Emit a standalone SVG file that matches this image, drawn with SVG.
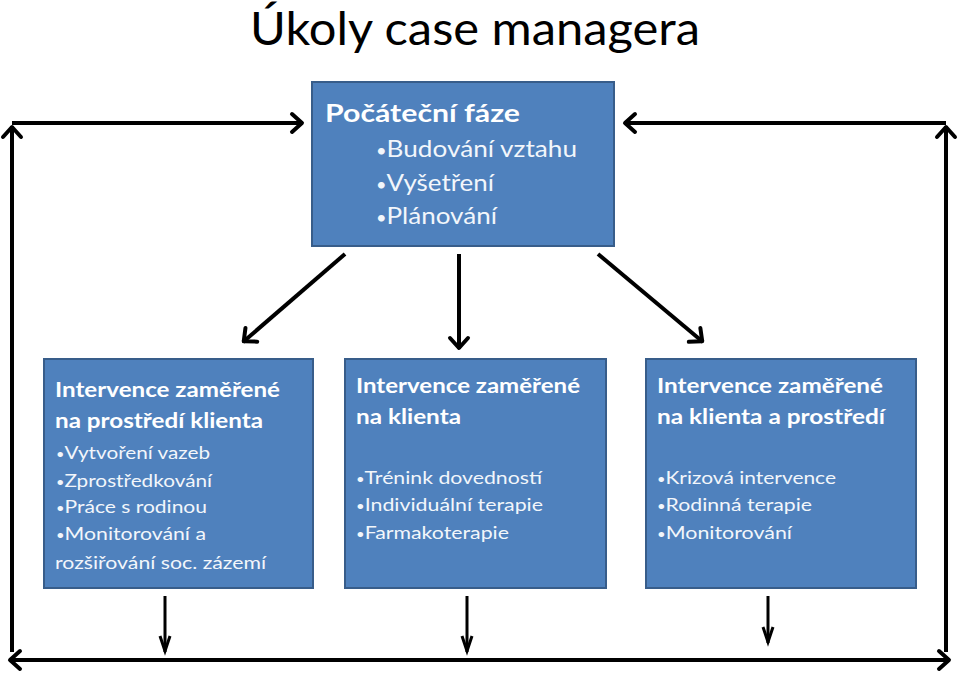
<svg xmlns="http://www.w3.org/2000/svg" width="960" height="673" viewBox="0 0 960 673">
<style>
.box{fill:#4F81BD;stroke:#385D8A;stroke-width:2}
.h{font-family:Lato,"Liberation Sans",sans-serif;font-weight:bold;fill:#FFFFFF}
.b{font-family:Lato,"Liberation Sans",sans-serif;fill:#F2F6FB}
.d{font-size:70%}
.ln{stroke:#000;stroke-width:4;fill:none}
.sl{stroke:#000;stroke-width:3;fill:none}
</style>
<defs>
<marker id="ah" markerUnits="userSpaceOnUse" markerWidth="30" markerHeight="30" viewBox="-15 -15 30 30" refX="0" refY="0" orient="auto-start-reverse">
<path d="M -11 -9 L -1 0 L -11 9" fill="none" stroke="#000" stroke-width="4" stroke-linecap="round" stroke-linejoin="round"/>
</marker>
<marker id="ahs" markerUnits="userSpaceOnUse" markerWidth="30" markerHeight="30" viewBox="-20 -15 30 30" refX="0" refY="0" orient="auto">
<path d="M -16 -5 L -1 0 L -16 5" fill="none" stroke="#000" stroke-width="3" stroke-linejoin="miter"/>
</marker>
</defs>
<rect width="960" height="673" fill="#FFFFFF"/>
<text x="475" y="45" text-anchor="middle" font-family="Lato,'Liberation Sans',sans-serif" font-size="46" fill="#000" textLength="450" lengthAdjust="spacingAndGlyphs">Úkoly case managera</text>

<g id="connectors">
<path class="ln" d="M12 652 L12 126" marker-end="url(#ah)"/>
<path class="ln" d="M12 123 L303 123" marker-end="url(#ah)"/>
<path class="ln" d="M946 652 L946 126" marker-end="url(#ah)"/>
<path class="ln" d="M946 123 L624 123" marker-end="url(#ah)"/>
<path class="ln" d="M9 660 L950 660" marker-start="url(#ah)" marker-end="url(#ah)"/>
<path class="ln" d="M345 254 L243 342" marker-end="url(#ah)"/>
<path class="ln" d="M459 254 L459 349" marker-end="url(#ah)"/>
<path class="ln" d="M598 254 L703 342" marker-end="url(#ah)"/>
<path class="sl" d="M165 596 L165 652" marker-end="url(#ahs)"/>
<path class="sl" d="M467 596 L467 652" marker-end="url(#ahs)"/>
<path class="sl" d="M768 596 L768 643" marker-end="url(#ahs)"/>
</g>

<g id="node-pocatecni">
<rect class="box" x="312" y="82" width="302" height="164"/>
<text class="h" x="325" y="122" font-size="24" textLength="195" lengthAdjust="spacingAndGlyphs">Počáteční fáze</text>
<text class="b" x="376" y="157" font-size="24" textLength="201" lengthAdjust="spacingAndGlyphs"><tspan class="d">•</tspan>Budování vztahu</text>
<text class="b" x="376" y="191" font-size="24" textLength="118" lengthAdjust="spacingAndGlyphs"><tspan class="d">•</tspan>Vyšetření</text>
<text class="b" x="376" y="224" font-size="24" textLength="121" lengthAdjust="spacingAndGlyphs"><tspan class="d">•</tspan>Plánování</text>
</g>

<g id="node-prostredi">
<rect class="box" x="44" y="359" width="269" height="229"/>
<text class="h" x="55" y="397" font-size="21" textLength="225" lengthAdjust="spacingAndGlyphs">Intervence zaměřené</text>
<text class="h" x="55" y="428" font-size="21" textLength="208" lengthAdjust="spacingAndGlyphs">na prostředí klienta</text>
<text class="b" x="56" y="459" font-size="18" textLength="154" lengthAdjust="spacingAndGlyphs"><tspan class="d">•</tspan>Vytvoření vazeb</text>
<text class="b" x="56" y="487" font-size="18" textLength="156" lengthAdjust="spacingAndGlyphs"><tspan class="d">•</tspan>Zprostředkování</text>
<text class="b" x="56" y="513" font-size="18" textLength="151" lengthAdjust="spacingAndGlyphs"><tspan class="d">•</tspan>Práce s rodinou</text>
<text class="b" x="56" y="540" font-size="18" textLength="150" lengthAdjust="spacingAndGlyphs"><tspan class="d">•</tspan>Monitorování a</text>
<text class="b" x="55" y="569" font-size="18" textLength="211" lengthAdjust="spacingAndGlyphs">rozšiřování soc. zázemí</text>
</g>

<g id="node-klient">
<rect class="box" x="345" y="359" width="261" height="229"/>
<text class="h" x="356" y="393" font-size="21" textLength="224" lengthAdjust="spacingAndGlyphs">Intervence zaměřené</text>
<text class="h" x="356" y="424" font-size="21" textLength="105" lengthAdjust="spacingAndGlyphs">na klienta</text>
<text class="b" x="356" y="484" font-size="18" textLength="186" lengthAdjust="spacingAndGlyphs"><tspan class="d">•</tspan>Trénink dovedností</text>
<text class="b" x="356" y="511" font-size="18" textLength="187" lengthAdjust="spacingAndGlyphs"><tspan class="d">•</tspan>Individuální terapie</text>
<text class="b" x="356" y="539" font-size="18" textLength="153" lengthAdjust="spacingAndGlyphs"><tspan class="d">•</tspan>Farmakoterapie</text>
</g>

<g id="node-klient-prostredi">
<rect class="box" x="646" y="359" width="270" height="229"/>
<text class="h" x="657" y="393" font-size="21" textLength="226" lengthAdjust="spacingAndGlyphs">Intervence zaměřené</text>
<text class="h" x="657" y="424" font-size="21" textLength="228" lengthAdjust="spacingAndGlyphs">na klienta a prostředí</text>
<text class="b" x="657" y="484" font-size="18" textLength="179" lengthAdjust="spacingAndGlyphs"><tspan class="d">•</tspan>Krizová intervence</text>
<text class="b" x="657" y="511" font-size="18" textLength="155" lengthAdjust="spacingAndGlyphs"><tspan class="d">•</tspan>Rodinná terapie</text>
<text class="b" x="657" y="539" font-size="18" textLength="135" lengthAdjust="spacingAndGlyphs"><tspan class="d">•</tspan>Monitorování</text>
</g>
</svg>
